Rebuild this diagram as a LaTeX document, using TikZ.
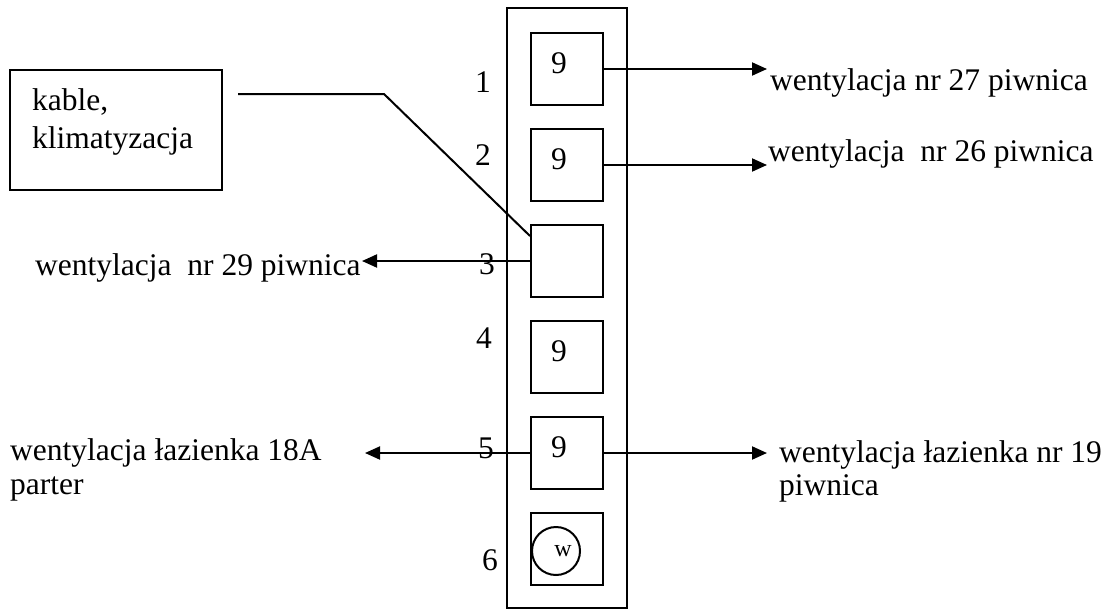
\documentclass[tikz,border=0pt]{standalone}
\usepackage{fontspec}
\setmainfont{Liberation Serif}
\usetikzlibrary{arrows.meta,calc}
\begin{document}
\begin{tikzpicture}[x=1pt,y=-1pt,
  every node/.style={font=\fontsize{31.5}{34}\selectfont, inner sep=0pt},
  ln/.style={line width=2pt},
  box/.style={draw, line width=2pt, minimum width=72pt, minimum height=72pt},
  arr/.style={line width=2pt, -{Triangle[length=15pt,width=13pt]}},
  txt/.style={anchor=base west},
  num/.style={anchor=base}]
\useasboundingbox (0,0) rectangle (1107,610);
% outer shaft
\node[draw, line width=2pt, minimum width=120pt, minimum height=600pt] (outer) at (567,308) {};
% inner boxes
\node[box] (b1) at (567,69) {};
\node[box] (b2) at (567,165) {};
\node[box] (b3) at (567,261) {};
\node[box] (b4) at (567,357) {};
\node[box] (b5) at (567,453) {};
\node[box] (b6) at (567,549) {};
% contents
\node[num] (n1) at ($(b1.center)+(-8,4)$) {9};
\node[num] (n2) at ($(b2.center)+(-8,4)$) {9};
\node[num] (n4) at ($(b4.center)+(-8,4)$) {9};
\node[num] (n5) at ($(b5.center)+(-8,4)$) {9};
\node[draw, circle, line width=2pt, minimum size=48pt, font=\fontsize{24}{26}\selectfont] (w) at (556,551) {\hspace*{14pt}w};
% numbers
\node[num] (k1) at (483,92) {1};
\node[num] (k2) at (483,165) {2};
\node[num] (k3) at (487,274) {3};
\node[num] (k4) at (484,348) {4};
\node[num] (k5) at (486,458) {5};
\node[num] (k6) at (490,570) {6};
% kable box
\node[draw, line width=2pt, minimum width=212pt, minimum height=120pt] (kable) at (116,130) {};
\node[txt] (kt1) at (32,110) {kable,};
\node[txt] (kt2) at (32,148) {klimatyzacja};
\coordinate (ks) at (238,94);
\coordinate (kb) at (384,94);
\draw[ln] (ks) -- (kb) -- ($(b3.north west)+(0,12)$);
% arrow ends
\coordinate (e1) at (767,69);
\coordinate (e2) at (767,165);
\coordinate (e3) at (362,261);
\coordinate (e5l) at (365,453);
\coordinate (e5r) at (767,453);
\draw[arr] (b1.east) -- (e1);
\draw[arr] (b2.east) -- (e2);
\draw[arr] (b3.west) -- (e3);
\draw[arr] (b5.west) -- (e5l);
\draw[arr] (b5.east) -- (e5r);
% labels
\node[txt] (t1) at (770,90) {wentylacja nr 27 piwnica};
\node[txt] (t2) at (768,161) {wentylacja~ nr 26 piwnica};
\node[txt] (t3) at (35,275) {wentylacja~ nr 29 piwnica};
\node[txt] (t5a) at (10,460) {wentylacja łazienka 18A};
\node[txt] (t5b) at (10,494) {parter};
\node[txt] (t6a) at (779,462) {wentylacja łazienka nr 19};
\node[txt] (t6b) at (779,495) {piwnica};
\end{tikzpicture}
\end{document}
